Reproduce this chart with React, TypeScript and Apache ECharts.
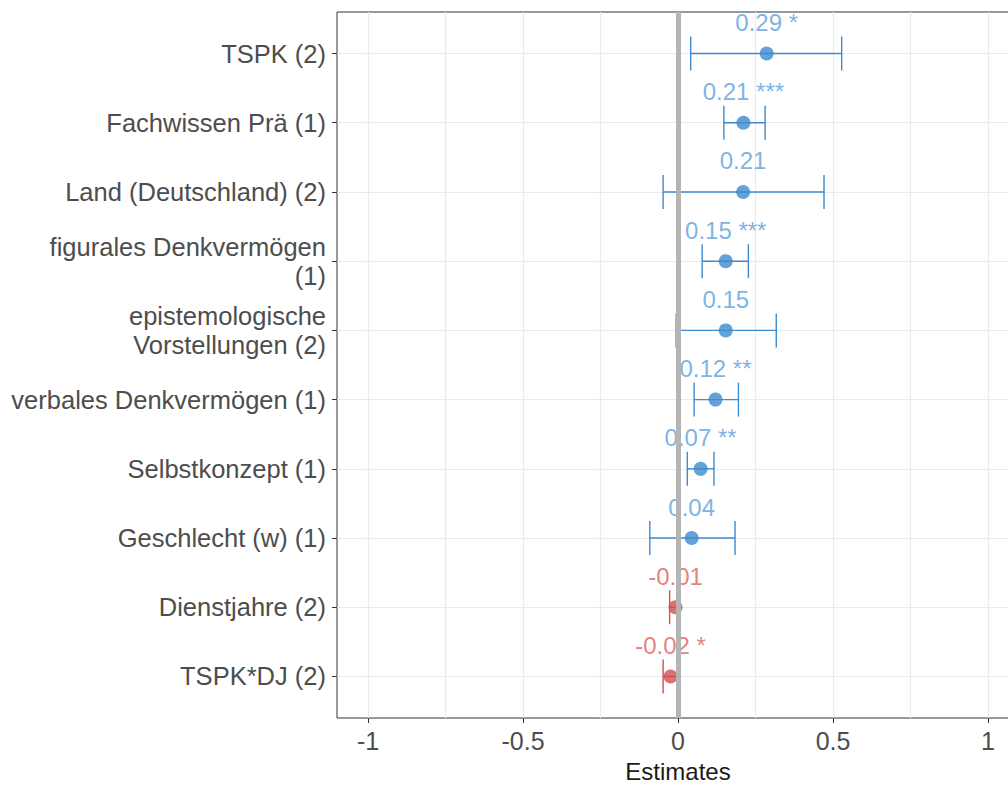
import React, { useEffect, useRef } from "react";
import * as echarts from "echarts";

const categories = [
  "TSPK (2)",
  "Fachwissen Prä (1)",
  "Land (Deutschland) (2)",
  "figurales Denkvermögen\n(1)",
  "epistemologische\nVorstellungen (2)",
  "verbales Denkvermögen (1)",
  "Selbstkonzept (1)",
  "Geschlecht (w) (1)",
  "Dienstjahre (2)",
  "TSPK*DJ (2)",
];
const estimates = [0.286, 0.211, 0.21, 0.154, 0.154, 0.121, 0.073, 0.044, -0.008, -0.024];
const ciLow = [0.041, 0.148, -0.048, 0.078, -0.006, 0.052, 0.03, -0.091, -0.027, -0.048];
const ciHigh = [0.528, 0.281, 0.471, 0.227, 0.317, 0.195, 0.116, 0.184, 0.0075, -0.001];
const labels = ["0.29 *", "0.21 ***", "0.21", "0.15 ***", "0.15", "0.12 **", "0.07 **", "0.04", "-0.01", "-0.02 *"];
const xMajorTicks = [-1, -0.5, 0, 0.5, 1];
const xMinorTicks = [-0.75, -0.25, 0.25, 0.75];
const xTickLabels = ["-1", "-0.5", "0", "0.5", "1"];

const BLUE = "#3c8ad0";
const BLUE_TXT = "#5b9fdc";
const RED = "#d24f4f";
const RED_TXT = "#e0605c";
const FONT = "'Liberation Sans', Arial, sans-serif";

export default function App() {
  const ref = useRef<HTMLDivElement>(null);
  useEffect(() => {
    if (!ref.current) return;
    const chart = echarts.init(ref.current, null, { renderer: "svg" });
    const positions = categories.map((_, i) => i + 1);
    const option: any = {
      animation: false,
      backgroundColor: "#ffffff",
      grid: {
        left: 337,
        top: 12,
        width: 682,
        height: 706,
        show: true,
        borderColor: "#333333",
        borderWidth: 1,
        backgroundColor: "#ffffff",
        containLabel: false,
        outerBoundsMode: "none",
      },
      xAxis: [
        {
          type: "value",
          min: -1.1,
          max: 1.1,
          position: "bottom",
          axisLine: { show: false, onZero: false },
          axisTick: {
            show: true,
            customValues: xMajorTicks,
            length: 5,
            lineStyle: { color: "#333333", width: 1 },
          },
          axisLabel: {
            show: true,
            customValues: xMajorTicks,
            formatter: (v: number) => xTickLabels[xMajorTicks.findIndex((t) => Math.abs(t - v) < 1e-9)] ?? "",
            fontSize: 25,
            color: "#4d4d4d",
            fontFamily: FONT,
            margin: 10,
          },
          splitLine: { show: true, lineStyle: { color: "#ebebeb", width: 1.2 } },
          name: "Estimates",
          nameLocation: "middle",
          nameGap: 43,
          nameTextStyle: { fontSize: 24, lineHeight: 20, color: "#1a1a1a", fontFamily: FONT },
        },
        {
          type: "value",
          min: -1.1,
          max: 1.1,
          position: "top",
          axisLine: { show: false, onZero: false },
          axisTick: { show: false, customValues: xMinorTicks },
          axisLabel: { show: false, customValues: xMinorTicks },
          splitLine: { show: true, lineStyle: { color: "#ebebeb", width: 1.2 } },
        },
      ],
      yAxis: {
        type: "value",
        min: 0.4,
        max: 10.6,
        inverse: true,
        position: "left",
        axisLine: { show: false, onZero: false },
        axisTick: {
          show: true,
          customValues: positions,
          length: 5,
          lineStyle: { color: "#333333", width: 1 },
        },
        axisLabel: {
          show: true,
          customValues: positions,
          formatter: (v: number) => categories[Math.round(v) - 1] ?? "",
          fontSize: 25.5,
          lineHeight: 29,
          color: "#4d4d4d",
          fontFamily: FONT,
          align: "right",
          margin: 11,
        },
        splitLine: { show: true, lineStyle: { color: "#ebebeb", width: 1.2 } },
      },
      series: [
        {
          type: "line",
          data: [],
          z: 1,
          markLine: {
            silent: true,
            symbol: "none",
            label: { show: false },
            lineStyle: { color: "#b5b5b5", width: 5, type: "solid" },
            data: [{ xAxis: 0 }],
          },
        },
        {
          type: "custom",
          z: 3,
          data: positions.map((p, i) => [ciLow[i], ciHigh[i], p, estimates[i]]),
          encode: { x: [0, 1], y: 2 },
          renderItem: (params: any, api: any) => {
            const lo = api.coord([api.value(0), api.value(2)]);
            const hi = api.coord([api.value(1), api.value(2)]);
            const color = api.value(3) < 0 ? RED : BLUE;
            const h = 17;
            const style = { stroke: color, lineWidth: 1.4 };
            return {
              type: "group",
              children: [
                { type: "line", shape: { x1: lo[0], y1: lo[1], x2: hi[0], y2: hi[1] }, style },
                { type: "line", shape: { x1: lo[0], y1: lo[1] - h, x2: lo[0], y2: lo[1] + h }, style },
                { type: "line", shape: { x1: hi[0], y1: hi[1] - h, x2: hi[0], y2: hi[1] + h }, style },
              ],
            };
          },
        },
        {
          type: "scatter",
          z: 4,
          symbol: "circle",
          symbolSize: 14,
          data: positions.map((p, i) => ({
            value: [estimates[i], p],
            itemStyle: { color: estimates[i] < 0 ? RED : BLUE },
            label: {
              show: true,
              position: "top",
              distance: 12,
              formatter: labels[i],
              fontSize: 24,
              lineHeight: 24,
              fontFamily: FONT,
              color: estimates[i] < 0 ? RED_TXT : BLUE_TXT,
            },
          })),
        },
      ],
    };
    chart.setOption(option);
    return () => chart.dispose();
  }, []);
  return (
    <div
      ref={ref}
      style={{ position: "fixed", left: 0, top: 0, width: 1040, height: 785, background: "#fff" }}
    />
  );
}
